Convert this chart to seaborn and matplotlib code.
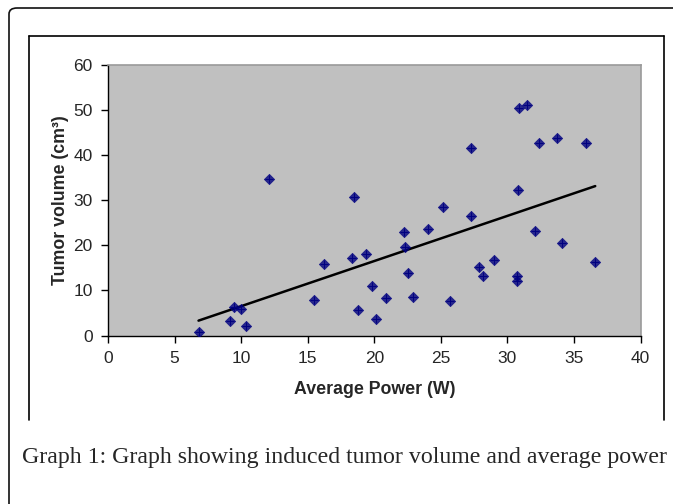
import numpy as np
import pandas as pd
import seaborn as sns
import matplotlib.pyplot as plt
from matplotlib.patches import FancyBboxPatch
from matplotlib.lines import Line2D

# average power (W) and induced tumor volume (cm3)
power = [6.8, 9.2, 9.5, 10.0, 10.4, 12.1, 15.5, 16.2, 18.3, 18.5, 18.8, 19.4,
         19.8, 20.1, 20.9, 22.2, 22.3, 22.5, 22.9, 24.0, 25.2, 25.7, 27.3, 27.3,
         27.9, 28.2, 29.0, 30.7, 30.7, 30.8, 30.9, 31.5, 32.1, 32.4, 33.7, 34.1,
         35.9, 36.6]
volume = [0.7, 3.3, 6.4, 5.8, 2.1, 34.7, 7.9, 15.9, 17.3, 30.8, 5.6, 18.0,
          10.9, 3.6, 8.3, 22.9, 19.7, 13.8, 8.6, 23.6, 28.5, 7.7, 41.6, 26.5,
          15.2, 13.2, 16.8, 13.2, 12.0, 32.3, 50.4, 51.1, 23.2, 42.6, 43.7, 20.5,
          42.6, 16.2]

x_ticks = [0, 5, 10, 15, 20, 25, 30, 35, 40]
y_ticks = [0, 10, 20, 30, 40, 50, 60]

df = pd.DataFrame({"power": power, "volume": volume})

sns.set_style("white")
plt.rcParams["font.family"] = ["Liberation Sans", "DejaVu Sans"]

W, H = 673, 504
fig = plt.figure(figsize=(W / 100, H / 100), dpi=100)
ax = fig.add_axes([108 / W, 1 - 335.5 / H, 532.5 / W, 270.5 / H])
ax.set_facecolor("#c0c0c0")

sns.regplot(
    data=df, x="power", y="volume", ci=None, truncate=True, ax=ax,
    marker="D",
    scatter_kws={"s": 28, "color": "#000080", "edgecolor": "#000080", "linewidths": 0.5, "zorder": 3},
    line_kws={"color": "black", "linewidth": 1.8, "zorder": 2},
)
# small cross through each marker, like the spreadsheet style
ax.scatter(df["power"], df["volume"], marker="+", s=40, color="#000080", linewidths=0.7, zorder=3)

ax.set_xlim(0, 40)
ax.set_ylim(0, 60)
ax.set_xticks(x_ticks)
ax.set_yticks(y_ticks)
ax.tick_params(axis="both", direction="out", length=5, width=1, color="black",
               labelsize=12.5, pad=6, left=True, bottom=True)
for side in ["left", "bottom"]:
    ax.spines[side].set_color("black")
    ax.spines[side].set_linewidth(1)
for side in ["top", "right"]:
    ax.spines[side].set_color("#9a9a9a")
    ax.spines[side].set_linewidth(1.2)

ax.set_xlabel("Average Power (W)", fontsize=12.8, fontweight="bold", labelpad=11)
ax.set_ylabel("Tumor volume (cm³)", fontsize=12.8, fontweight="bold", labelpad=3)

# outer frame with rounded top-left corner, running off the right and bottom edges
frame = FancyBboxPatch((9 / W, -0.1), 1.2, 1 - 8 / H + 0.1,
                       boxstyle="round,pad=0,rounding_size=0.012",
                       transform=fig.transFigure, fill=False,
                       edgecolor="#111111", linewidth=1.2)
fig.add_artist(frame)

# inner chart box (open at the bottom)
xl, xr, yt, yb = 29 / W, 664 / W, 1 - 36 / H, 1 - 420 / H
for xs, ys in [([xl, xl], [yb, yt]), ([xl, xr], [yt, yt]), ([xr, xr], [yt, yb])]:
    fig.add_artist(Line2D(xs, ys, transform=fig.transFigure, color="black", linewidth=1.2))

fig.text(22 / W, 1 - 457 / H, "Graph 1: Graph showing induced tumor volume and average power",
         family=["Liberation Serif", "DejaVu Serif"], fontsize=17.2, ha="left", va="center")

fig.savefig("out.png", dpi=100, facecolor="white")
